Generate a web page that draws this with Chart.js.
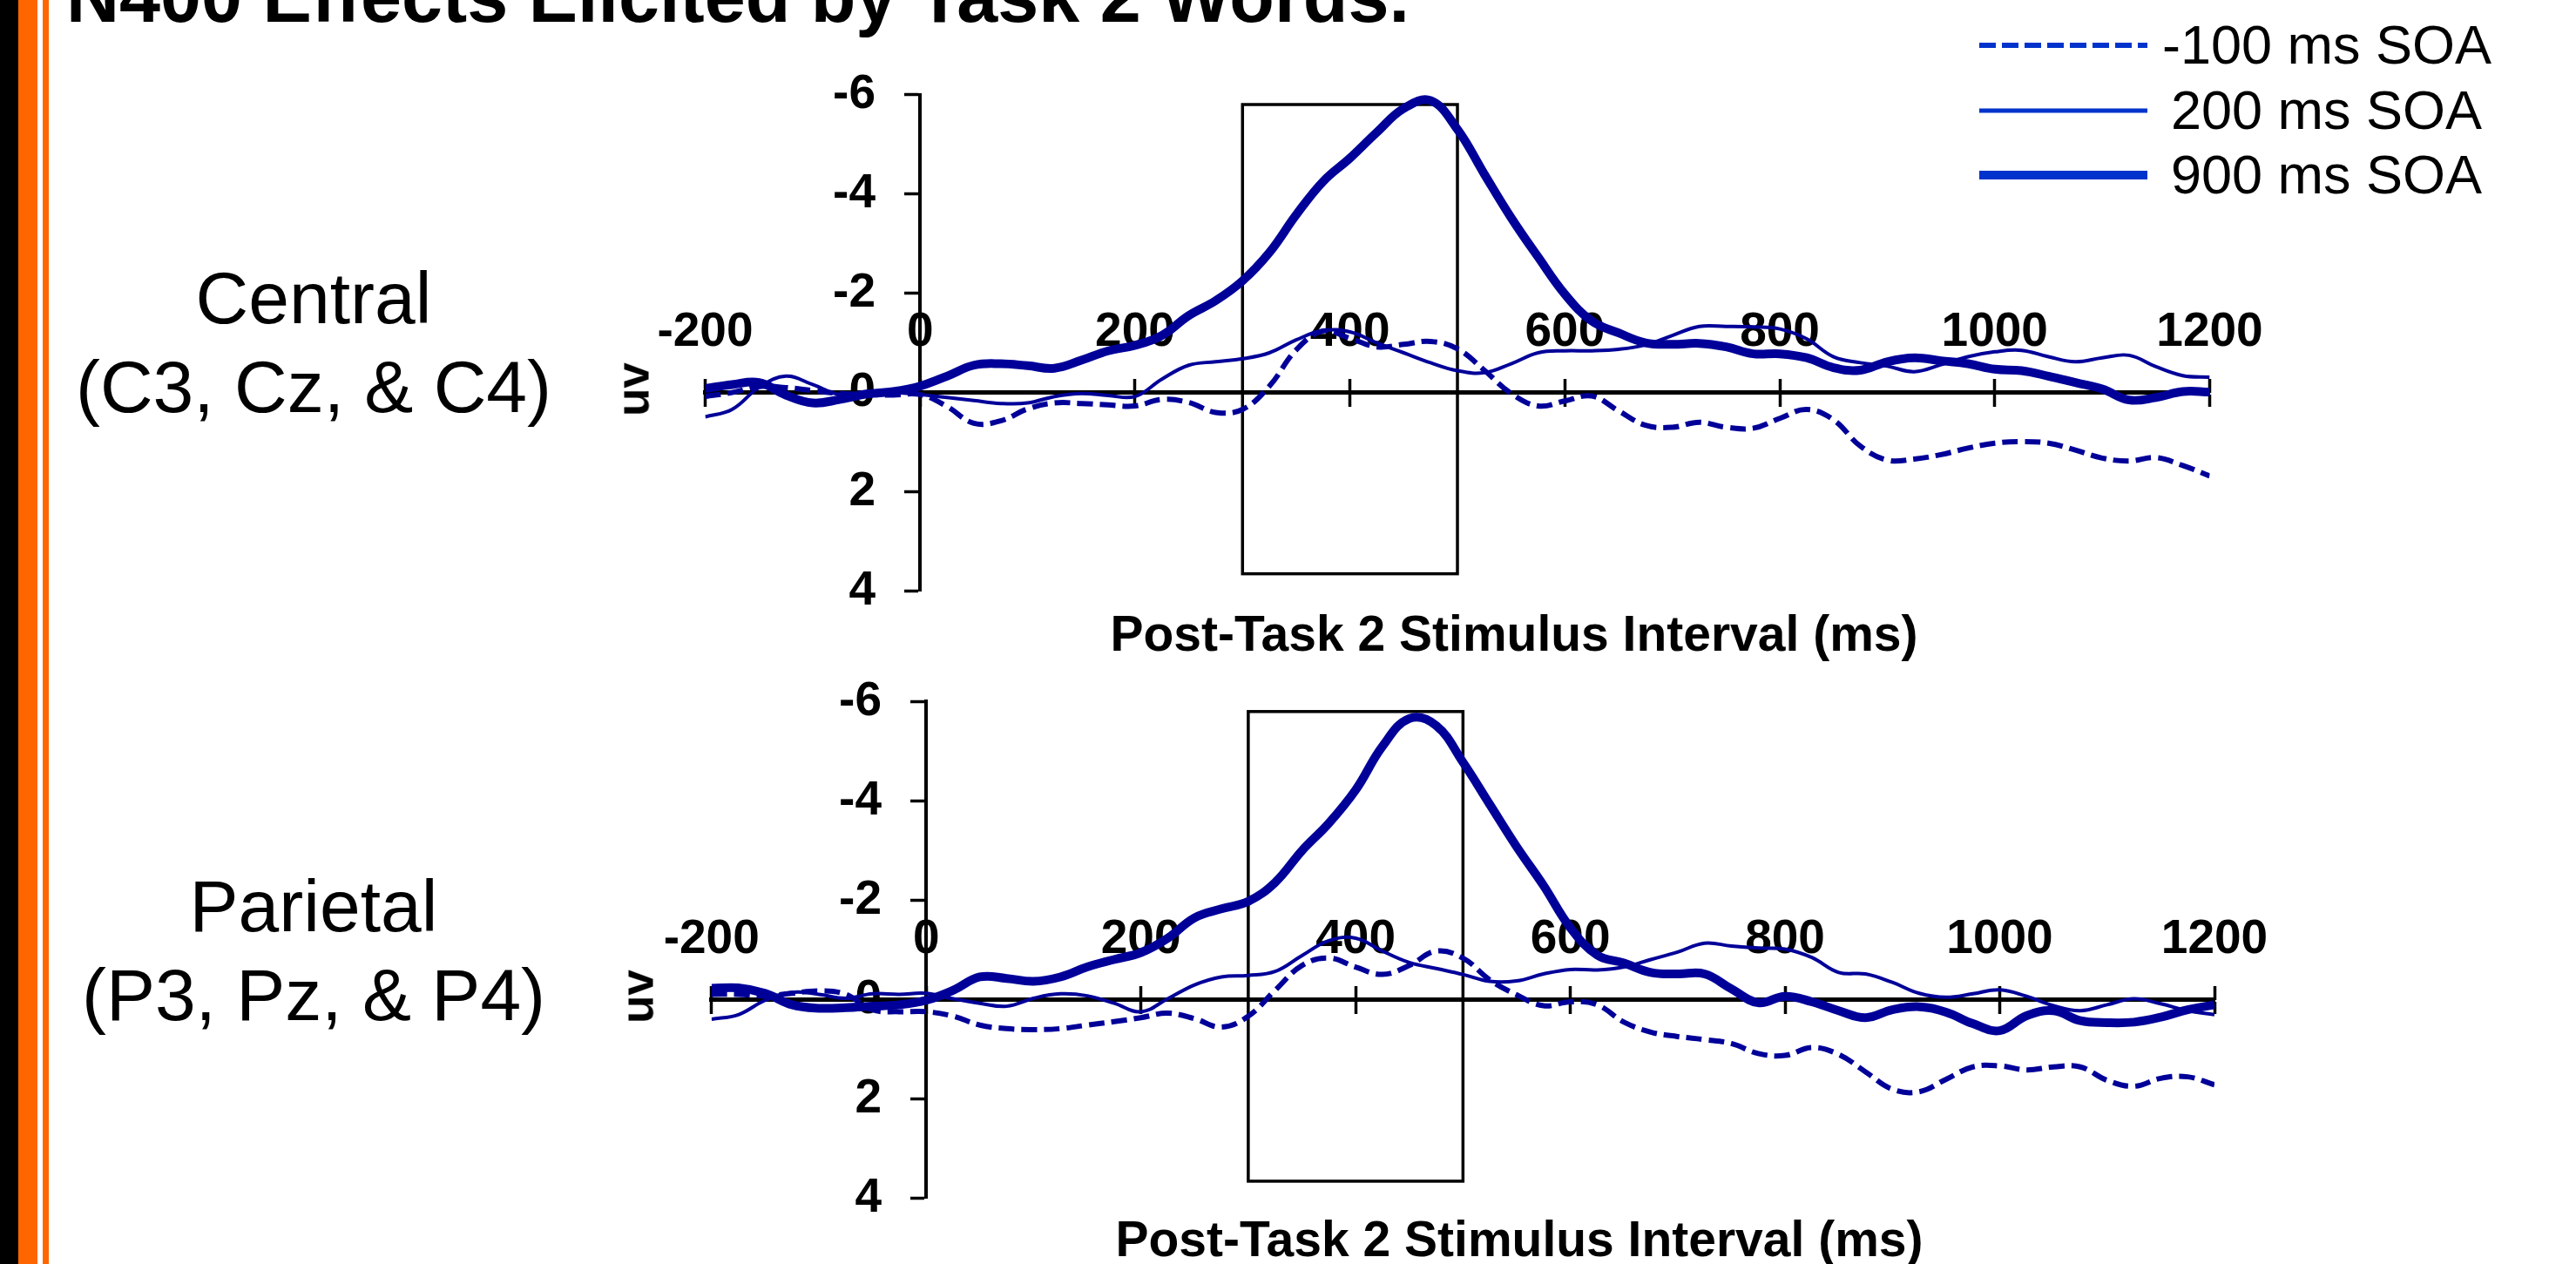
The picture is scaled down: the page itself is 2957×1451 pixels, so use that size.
<!DOCTYPE html>
<html>
<head>
<meta charset="utf-8">
<title>N400 Effects Elicited by Task 2 Words</title>
<script src="https://cdn.jsdelivr.net/npm/chart.js@4.4.1/dist/chart.umd.min.js"></script>
<style>
  body { margin: 0; background: #fff; font-family: "Liberation Sans", Arial, sans-serif; }
  #page { position: relative; width: 2957px; height: 1451px; overflow: hidden; background: #fff; }
  .stripe { position: absolute; top: 0; height: 1451px; }
  .txt { position: absolute; white-space: nowrap; line-height: 1; color: #000; }
  .region { position: absolute; white-space: nowrap; text-align: center; font-size: 84px; line-height: 101.6px; transform: translateX(-50%); }
  .axisTitle { position: absolute; white-space: nowrap; font-size: 57px; font-weight: bold; line-height: 1; transform: translateX(-50%); }
  .uv { position: absolute; font-size: 53px; font-weight: bold; line-height: 1; transform: translate(-50%, -50%) rotate(-90deg); }
  canvas { position: absolute; left: 0; }
</style>
</head>
<body>
<div id="page">
  <div class="stripe" style="left:0;width:21px;background:#000"></div>
  <div class="stripe" style="left:21px;width:22px;background:#ff6600"></div>
  <div class="stripe" style="left:49px;width:7px;background:#ff6600"></div>

  <canvas id="centralChart" width="2957" height="740" style="top:0"></canvas>
  <canvas id="parietalChart" width="2957" height="711" style="top:740px"></canvas>

  <div class="txt" style="left:76px;top:-46px;font-size:84.5px;font-weight:bold">N400 Effects Elicited by Task 2 Words.</div>

  <div class="region" style="left:360px;top:292px">Central<br>(C3, Cz, &amp; C4)</div>
  <div class="region" style="left:360px;top:990px">Parietal<br>(P3, Pz, &amp; P4)</div>

  <div class="uv" style="left:726px;top:447px">uv</div>
  <div class="uv" style="left:731px;top:1144px">uv</div>

  <div class="axisTitle" style="left:1738px;top:699px">Post-Task 2 Stimulus Interval (ms)</div>
  <div class="axisTitle" style="left:1744px;top:1394px">Post-Task 2 Stimulus Interval (ms)</div>
</div>

<script>
// time points (ms after Task 2 stimulus)
const times = [-200, -175, -150, -125, -100, -75, -50, -25, 0, 25, 50, 75, 100, 125, 150, 175,
  200, 225, 250, 275, 300, 325, 350, 375, 400, 425, 450, 475, 500, 525, 550, 575, 600, 625,
  650, 675, 700, 725, 750, 775, 800, 825, 850, 875, 900, 925, 950, 975, 1000, 1025, 1050,
  1075, 1100, 1125, 1150, 1175, 1200];

const soaLabels = ['-100 ms SOA', '200 ms SOA', '900 ms SOA'];
const xTicks = [-200, 0, 200, 400, 600, 800, 1000, 1200];
const yTicks = [-6, -4, -2, 0, 2, 4];

// N400 window box
const windowMs = [300, 500];
const windowUv = [-5.8, 3.65];

// Central (C3, Cz, & C4), microvolts
const centralMinus100 = [0.08, 0.00, -0.12, -0.10, -0.04, 0.02, 0.04, 0.05, 0.04, 0.28, 0.62,
  0.57, 0.33, 0.21, 0.22, 0.25, 0.27, 0.14, 0.20, 0.40, 0.34, -0.13, -0.86, -1.24, -1.09,
  -0.92, -0.97, -1.03, -0.88, -0.45, 0.02, 0.27, 0.17, 0.07, 0.37, 0.66, 0.70, 0.60, 0.70,
  0.72, 0.52, 0.34, 0.55, 1.08, 1.36, 1.34, 1.25, 1.12, 1.02, 0.99, 1.02, 1.16, 1.32, 1.38,
  1.31, 1.47, 1.68];
const central200 = [0.49, 0.34, -0.10, -0.33, -0.16, 0.04, 0.00, 0.00, 0.04, 0.10, 0.16, 0.22,
  0.21, 0.08, 0.02, 0.06, 0.08, -0.27, -0.55, -0.62, -0.68, -0.80, -1.06, -1.25, -1.22,
  -1.00, -0.80, -0.60, -0.44, -0.40, -0.58, -0.80, -0.84, -0.84, -0.87, -0.96, -1.15, -1.33,
  -1.33, -1.32, -1.28, -1.08, -0.72, -0.60, -0.53, -0.42, -0.56, -0.72, -0.82, -0.85, -0.72,
  -0.62, -0.70, -0.75, -0.52, -0.34, -0.31];
const central900 = [-0.08, -0.16, -0.20, 0.05, 0.21, 0.14, 0.03, -0.02, -0.13, -0.33, -0.55,
  -0.58, -0.54, -0.49, -0.65, -0.84, -0.95, -1.15, -1.55, -1.85, -2.25, -2.82, -3.58, -4.25,
  -4.72, -5.24, -5.72, -5.88, -5.30, -4.40, -3.52, -2.73, -1.98, -1.44, -1.20, -1.00, -0.97,
  -0.99, -0.92, -0.78, -0.78, -0.70, -0.50, -0.45, -0.62, -0.70, -0.64, -0.58, -0.47, -0.44,
  -0.33, -0.20, -0.07, 0.15, 0.10, -0.02, -0.01];

// Parietal (P3, Pz, & P4), microvolts
const parietalMinus100 = [-0.11, -0.11, -0.08, -0.13, -0.18, -0.11, 0.20, 0.24, 0.24, 0.33,
  0.51, 0.58, 0.60, 0.58, 0.51, 0.44, 0.36, 0.27, 0.38, 0.55, 0.33, -0.19, -0.69, -0.84,
  -0.66, -0.51, -0.69, -0.98, -0.84, -0.40, -0.10, 0.12, 0.04, 0.10, 0.45, 0.65, 0.74, 0.80,
  0.88, 1.08, 1.12, 0.96, 1.10, 1.45, 1.80, 1.85, 1.60, 1.35, 1.33, 1.41, 1.35, 1.35, 1.62,
  1.74, 1.58, 1.55, 1.71];
const parietal200 = [0.39, 0.30, 0.01, -0.15, -0.11, -0.03, -0.12, -0.11, -0.13, -0.02, 0.07,
  0.13, -0.03, -0.12, -0.08, 0.07, 0.24, -0.02, -0.30, -0.46, -0.49, -0.57, -0.89, -1.19,
  -1.24, -0.98, -0.75, -0.63, -0.51, -0.37, -0.38, -0.52, -0.61, -0.60, -0.66, -0.81, -0.96,
  -1.14, -1.08, -1.04, -1.02, -0.85, -0.55, -0.52, -0.35, -0.13, -0.05, -0.12, -0.20, -0.07,
  0.12, 0.22, 0.10, -0.02, 0.08, 0.22, 0.30];
const parietal900 = [-0.23, -0.24, -0.13, 0.10, 0.17, 0.16, 0.13, 0.10, 0.01, -0.19, -0.46,
  -0.43, -0.37, -0.46, -0.66, -0.81, -0.95, -1.24, -1.65, -1.83, -1.98, -2.36, -3.00, -3.55,
  -4.22, -5.10, -5.66, -5.52, -4.78, -3.93, -3.08, -2.30, -1.45, -0.90, -0.74, -0.55, -0.52,
  -0.52, -0.22, 0.06, -0.07, 0.04, 0.22, 0.36, 0.20, 0.14, 0.25, 0.48, 0.62, 0.32, 0.22,
  0.42, 0.46, 0.45, 0.35, 0.20, 0.10];

const lineColor = '#000099';
const legendColor = '#0033cc';
const fontFamily = '"Liberation Sans", Arial, sans-serif';

// black N400 window rectangle, drawn under the waveforms
const windowBox = {
    id: 'windowBox',
    beforeDatasetsDraw(chart) {
        const x = chart.scales.x;
        const y = chart.scales.y;
        const ctx = chart.ctx;
        const x1 = x.getPixelForValue(windowMs[0]);
        const x2 = x.getPixelForValue(windowMs[1]);
        const y1 = y.getPixelForValue(windowUv[0]);
        const y2 = y.getPixelForValue(windowUv[1]);
        ctx.save();
        ctx.strokeStyle = '#000';
        ctx.lineWidth = 3.5;
        ctx.strokeRect(x1, y1, x2 - x1, y2 - y1);
        ctx.restore();
    }
};

// legend in the top right corner
const soaLegend = {
    id: 'soaLegend',
    afterDraw(chart) {
        const ctx = chart.ctx;
        const lineY = [52, 127, 201];
        const textX = [2482, 2492, 2492];
        const widths = [6, 5, 10];
        ctx.save();
        ctx.font = '63px ' + fontFamily;
        ctx.fillStyle = '#000';
        ctx.textBaseline = 'alphabetic';
        soaLabels.forEach((name, i) => {
            ctx.strokeStyle = legendColor;
            ctx.lineWidth = widths[i];
            ctx.setLineDash(i === 0 ? [19, 7] : []);
            ctx.beginPath();
            ctx.moveTo(2272, lineY[i]);
            ctx.lineTo(2465, lineY[i]);
            ctx.stroke();
            ctx.fillText(name, textX[i], lineY[i] + 21);
        });
        ctx.restore();
    }
};

function makeChart(canvasId, series, padding, extraPlugins) {
    const ctx = document.getElementById(canvasId).getContext('2d');
    const tickFont = { family: fontFamily, size: 55, weight: 'bold' };
    return new Chart(ctx, {
        type: 'line',
        data: {
            labels: times,
            datasets: [{
                label: soaLabels[0],
                data: series[0],
                borderColor: lineColor,
                borderWidth: 6,
                borderDash: [18, 8],
                pointRadius: 0,
                tension: 0.4,
                order: 2
            }, {
                label: soaLabels[1],
                data: series[1],
                borderColor: lineColor,
                borderWidth: 4,
                pointRadius: 0,
                tension: 0.4,
                order: 1
            }, {
                label: soaLabels[2],
                data: series[2],
                borderColor: lineColor,
                borderWidth: 10,
                pointRadius: 0,
                tension: 0.4,
                order: 0
            }]
        },
        options: {
            responsive: false,
            animation: false,
            devicePixelRatio: 1,
            layout: { padding: padding },
            plugins: {
                legend: { display: false },
                tooltip: { enabled: false }
            },
            scales: {
                // axis line through uV = 0, with tick marks below it
                x: {
                    type: 'linear',
                    axis: 'x',
                    position: { y: 0 },
                    min: xTicks[0],
                    max: xTicks[xTicks.length - 1],
                    border: { display: true, color: '#000', width: 5 },
                    grid: { drawOnChartArea: false, drawTicks: true, tickLength: 14, tickWidth: 3.5, color: '#000' },
                    ticks: { display: false, stepSize: 200 },
                    afterBuildTicks: s => { s.ticks = xTicks.map(v => ({ value: v })); }
                },
                // tick marks above the axis line
                xUp: {
                    type: 'linear',
                    axis: 'x',
                    position: { y: 0 },
                    min: xTicks[0],
                    max: xTicks[xTicks.length - 1],
                    border: { display: false },
                    grid: { drawOnChartArea: false, drawTicks: true, tickLength: -16, tickWidth: 3.5, color: '#000' },
                    ticks: { display: false, stepSize: 200 },
                    afterBuildTicks: s => { s.ticks = xTicks.map(v => ({ value: v })); }
                },
                // labels sit above the axis line
                xLabels: {
                    type: 'linear',
                    axis: 'x',
                    position: { y: 0 },
                    z: 1,
                    min: xTicks[0],
                    max: xTicks[xTicks.length - 1],
                    border: { display: false },
                    grid: { display: false, drawTicks: false },
                    ticks: {
                        stepSize: 200,
                        padding: -102,
                        maxRotation: 0,
                        autoSkip: false,
                        color: '#000',
                        font: tickFont,
                        callback: v => String(v)
                    },
                    afterBuildTicks: s => { s.ticks = xTicks.map(v => ({ value: v })); }
                },
                // negative up, axis line at 0 ms
                y: {
                    type: 'linear',
                    axis: 'y',
                    position: { x: 0 },
                    min: yTicks[0],
                    max: yTicks[yTicks.length - 1],
                    reverse: true,
                    border: { display: true, color: '#000', width: 4 },
                    grid: { drawOnChartArea: false, drawTicks: true, tickLength: 16, tickWidth: 3.5, color: '#000' },
                    ticks: { display: false, stepSize: 2 },
                    afterBuildTicks: s => { s.ticks = yTicks.map(v => ({ value: v })); }
                },
                yLabels: {
                    type: 'linear',
                    axis: 'y',
                    position: { x: -41.5 },
                    z: 1,
                    min: yTicks[0],
                    max: yTicks[yTicks.length - 1],
                    reverse: true,
                    border: { display: false },
                    grid: { display: false, drawTicks: false },
                    ticks: {
                        stepSize: 2,
                        color: '#000',
                        font: tickFont,
                        callback: v => String(v)
                    },
                    afterBuildTicks: s => { s.ticks = yTicks.map(v => ({ value: v })); }
                }
            }
        },
        plugins: [windowBox].concat(extraPlugins)
    });
}

const centralChart = makeChart('centralChart',
    [centralMinus100, central200, central900],
    { left: 809.5, right: 420.5, top: 108.6, bottom: 61.4 },
    [soaLegend]);

const parietalChart = makeChart('parietalChart',
    [parietalMinus100, parietal200, parietal900],
    { left: 816.7, right: 415, top: 65.4, bottom: 75.1 },
    []);
</script>
</body>
</html>
